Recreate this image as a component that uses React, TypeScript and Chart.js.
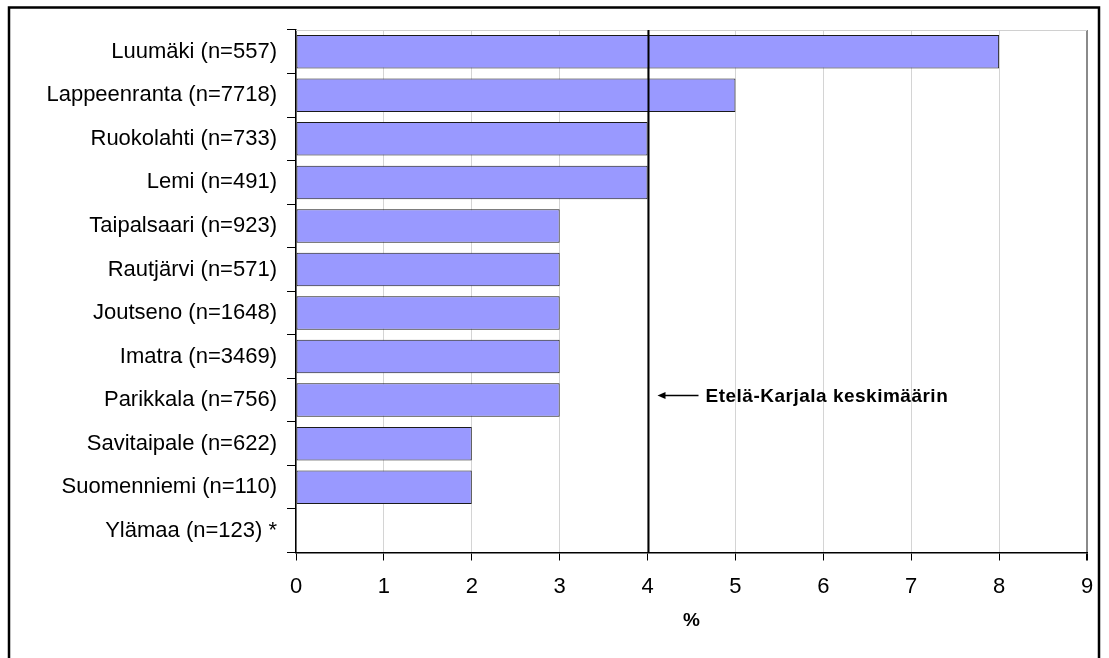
import { useEffect, useRef } from "react";
import { Chart, registerables } from "chart.js";

Chart.register(...registerables);

// Municipalities, top to bottom
const categories = [
  "Luumäki (n=557)",
  "Lappeenranta (n=7718)",
  "Ruokolahti (n=733)",
  "Lemi (n=491)",
  "Taipalsaari (n=923)",
  "Rautjärvi (n=571)",
  "Joutseno (n=1648)",
  "Imatra (n=3469)",
  "Parikkala (n=756)",
  "Savitaipale (n=622)",
  "Suomenniemi (n=110)",
  "Ylämaa (n=123) *",
];

// Share in percent (Ylämaa has no reported value)
const values: (number | null)[] = [8, 5, 4, 4, 3, 3, 3, 3, 3, 2, 2, null];

const xMin = 0;
const xMax = 9;
const xStep = 1;

// Regional average and its label
const averageValue = 4;
const averageLabel = "Etelä-Karjala keskimäärin";
const averageLabelRow = 8;

const axisTitle = "%";

const FONT = "'Liberation Sans', Arial, Helvetica, sans-serif";

const decorations = {
  id: "decorations",
  afterDatasetsDraw(chart: any) {
    const { ctx, chartArea, scales } = chart;
    const x = scales.x;
    const y = scales.y;
    ctx.save();

    // light top edge of the plot area
    ctx.strokeStyle = "#d0d0d0";
    ctx.lineWidth = 1;
    ctx.beginPath();
    ctx.moveTo(chartArea.left, chartArea.top + 0.5);
    ctx.lineTo(chartArea.right, chartArea.top + 0.5);
    ctx.stroke();

    // average line
    const ax = Math.round(x.getPixelForValue(averageValue)) + 0.5;
    ctx.strokeStyle = "#000";
    ctx.lineWidth = 2;
    ctx.beginPath();
    ctx.moveTo(ax, chartArea.top);
    ctx.lineTo(ax, chartArea.bottom);
    ctx.stroke();

    // arrow pointing at the average line
    const ay = Math.round(y.getPixelForValue(averageLabelRow)) - 5 + 0.5;
    const tipX = ax + 9;
    const tailX = ax + 50;
    ctx.lineWidth = 1.5;
    ctx.beginPath();
    ctx.moveTo(tailX, ay);
    ctx.lineTo(tipX + 4, ay);
    ctx.stroke();
    ctx.fillStyle = "#000";
    ctx.beginPath();
    ctx.moveTo(tipX, ay);
    ctx.lineTo(tipX + 8, ay - 3.5);
    ctx.lineTo(tipX + 8, ay + 3.5);
    ctx.closePath();
    ctx.fill();

    ctx.font = `bold 19px ${FONT}`;
    (ctx as any).letterSpacing = "0.5px";
    ctx.textAlign = "left";
    ctx.textBaseline = "middle";
    ctx.fillText(averageLabel, tailX + 7, ay + 1);

    ctx.restore();
  },
  afterDraw(chart: any) {
    const { ctx } = chart;
    ctx.save();
    // outer frame, open at the bottom edge
    ctx.strokeStyle = "#000";
    ctx.lineWidth = 2.5;
    ctx.beginPath();
    ctx.moveTo(9, 670);
    ctx.lineTo(9, 7.5);
    ctx.lineTo(1099, 7.5);
    ctx.lineTo(1099, 670);
    ctx.stroke();
    ctx.restore();
  },
};

export default function App() {
  const canvasRef = useRef<HTMLCanvasElement | null>(null);

  useEffect(() => {
    const canvas = canvasRef.current;
    if (!canvas) return;
    const chart = new Chart(canvas, {
      type: "bar",
      data: {
        labels: categories,
        datasets: [
          {
            data: values,
            backgroundColor: "#9999ff",
            borderColor: "#1a1a1a",
            borderWidth: 1,
            borderSkipped: false,
            barPercentage: 0.77,
            categoryPercentage: 1,
          },
        ],
      },
      options: {
        indexAxis: "y",
        responsive: false,
        animation: false,
        events: [],
        layout: { padding: { top: 30, right: 22, bottom: 0, left: 0 } },
        plugins: {
          legend: { display: false },
          tooltip: { enabled: false },
        },
        scales: {
          x: {
            type: "linear",
            min: xMin,
            max: xMax,
            ticks: {
              stepSize: xStep,
              color: "#000",
              font: { family: FONT, size: 22 },
              padding: 13,
            },
            grid: {
              color: (c: any) =>
                c.tick && c.tick.value === xMax ? "#8a8a8a" : "#d4d4d4",
              lineWidth: (c: any) => (c.tick && c.tick.value === xMax ? 2 : 1),
              tickColor: "#000",
              tickLength: 8,
            },
            border: { color: "#000", width: 1.5 },
            title: {
              display: true,
              text: axisTitle,
              color: "#000",
              font: { family: FONT, size: 19, weight: "bold" },
              padding: { top: 0, bottom: 26 },
            },
            afterFit: (scale: any) => {
              scale.height = 105.5;
            },
          },
          y: {
            type: "category",
            ticks: {
              color: "#000",
              font: { family: FONT, size: 22 },
              padding: 10,
              autoSkip: false,
            },
            grid: {
              offset: true,
              drawOnChartArea: false,
              color: "#000",
              tickColor: "#000",
              tickLength: 9,
            },
            border: { color: "#000", width: 1.5 },
            afterFit: (scale: any) => {
              scale.width = 296;
            },
          },
        },
      },
      plugins: [decorations],
    });
    return () => chart.destroy();
  }, []);

  return (
    <div style={{ position: "fixed", left: 0, top: 0, width: 1109, height: 658, background: "#fff" }}>
      <canvas ref={canvasRef} width={1109} height={658} />
    </div>
  );
}
